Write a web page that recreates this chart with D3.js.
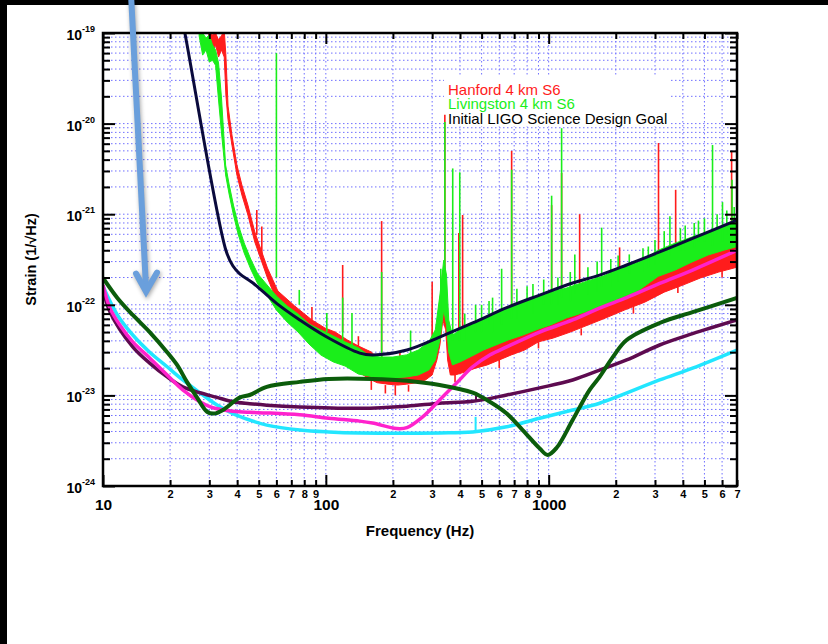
<!DOCTYPE html>
<html>
<head>
<meta charset="utf-8">
<script src="https://cdn.jsdelivr.net/npm/d3@7"></script>
<style>
  body { margin: 0; background: #fff; }
  svg { display: block; font-family: "Liberation Sans", Arial, Helvetica, sans-serif; }
</style>
</head>
<body>
<div id="chart"></div>
<script>

/*    Data    */
/***********************************/
// Measured noise bands: [frequency Hz, lower edge, upper edge] in strain 1/sqrt(Hz)
const hanfordBand = [
  [29.8, 8.8e-20, 1.08e-19], [31, 6.17e-20, 9.5e-20], [32, 7.4e-20, 1.0e-19], [33, 5.43e-20, 8.4e-20],
  [34, 6.5e-20, 9.3e-20], [35, 5.43e-20, 1.08e-19], [35.6, 2.07e-20, 5.7e-20], [36.4, 1.1e-20, 1.56e-20],
  [37.9, 5.8e-21, 7.48e-21], [39.9, 2.71e-21, 3.49e-21], [42, 1.63e-21, 2.1e-21], [44.7, 9.8e-22, 1.26e-21],
  [48, 4.93e-22, 6.37e-22], [51.6, 2.97e-22, 3.83e-22], [54.7, 1.98e-22, 2.55e-22], [60.9, 1.04e-22, 1.42e-22],
  [72.5, 6.8e-23, 9.7e-23], [86.6, 4.09e-23, 6.8e-23], [99, 3.01e-23, 5.55e-23], [110, 2.72e-23, 5.01e-23],
  [125, 2.17e-23, 4.09e-23], [140, 1.81e-23, 3.51e-23], [160, 1.48e-23, 3.01e-23], [170, 1.38e-23, 2.6e-23],
  [190, 1.33e-23, 2.46e-23], [210, 1.3e-23, 2.46e-23], [230, 1.33e-23, 2.46e-23], [255, 1.38e-23, 2.72e-23],
  [280, 1.48e-23, 3.17e-23], [300, 1.68e-23, 3.6e-23], [315, 2.46e-23, 5.3e-23], [325, 3.6e-23, 1.13e-22],
  [335, 6.8e-23, 2.42e-22], [345, 5.3e-23, 1.88e-22], [352, 2.46e-23, 5.3e-23], [362, 1.68e-23, 3.6e-23],
  [380, 1.68e-23, 3.6e-23], [420, 1.81e-23, 4.1e-23], [470, 2.0e-23, 4.6e-23], [530, 2.17e-23, 5.3e-23],
  [600, 2.46e-23, 6.0e-23], [680, 2.8e-23, 6.8e-23], [780, 3.17e-23, 7.7e-23], [900, 3.9e-23, 9.2e-23],
  [1050, 4.3e-23, 1.07e-22], [1250, 5.0e-23, 1.19e-22], [1500, 5.98e-23, 1.28e-22], [1800, 7.15e-23, 1.46e-22],
  [2200, 8.8e-23, 1.79e-22], [2700, 1.07e-22, 2.13e-22], [3300, 1.38e-22, 2.55e-22], [4000, 1.65e-22, 2.97e-22],
  [4800, 1.98e-22, 3.46e-22], [5800, 2.3e-22, 4.0e-22], [7000, 2.6e-22, 4.6e-22]
];

const livingstonBand = [
  [27, 9.3e-20, 1.08e-19], [28, 5.7e-20, 1.0e-19], [29, 6.5e-20, 8.8e-20], [30, 4.78e-20, 9.5e-20],
  [31, 5.0e-20, 7.4e-20], [32, 4.4e-20, 6.5e-20], [33, 1.82e-20, 4.67e-20], [34, 8.07e-21, 1.97e-20],
  [35.5, 2.71e-21, 3.49e-21], [36.8, 1.67e-21, 2.15e-21], [38.5, 9.8e-22, 1.26e-21], [40.5, 5.89e-22, 7.6e-22],
  [43, 3.73e-22, 4.81e-22], [46, 2.48e-22, 3.2e-22], [49.5, 1.7e-22, 2.19e-22], [54, 1.32e-22, 1.7e-22],
  [60, 8.76e-23, 1.25e-22], [67, 6.46e-23, 9.7e-23], [75, 5.01e-23, 7.91e-23], [84, 3.69e-23, 6.14e-23],
  [95, 2.79e-23, 5.27e-23], [108, 2.34e-23, 4.52e-23], [122, 2.11e-23, 3.89e-23], [140, 1.72e-23, 3.34e-23],
  [155, 1.64e-23, 2.8e-23], [175, 1.56e-23, 2.65e-23], [200, 1.56e-23, 2.65e-23], [230, 1.6e-23, 2.8e-23],
  [260, 1.68e-23, 3.17e-23], [290, 1.91e-23, 3.9e-23], [310, 2.46e-23, 5.3e-23], [325, 4.1e-23, 1.28e-22],
  [338, 8.8e-23, 3.1e-22], [348, 6.0e-23, 2.13e-22], [356, 3.0e-23, 6.8e-23], [370, 2.17e-23, 4.6e-23],
  [400, 2.34e-23, 5.3e-23], [450, 2.7e-23, 6.3e-23], [510, 3.17e-23, 7.15e-23], [580, 3.6e-23, 8.3e-23],
  [660, 4.1e-23, 9.5e-23], [760, 4.6e-23, 1.07e-22], [880, 5.3e-23, 1.19e-22], [1020, 6.0e-23, 1.38e-22],
  [1200, 7.15e-23, 1.53e-22], [1450, 8.3e-23, 1.79e-22], [1750, 1.0e-22, 2.06e-22], [2100, 1.19e-22, 2.55e-22],
  [2550, 1.46e-22, 2.97e-22], [3100, 2.06e-22, 4.0e-22], [3700, 2.42e-22, 4.8e-22], [4400, 2.97e-22, 5.6e-22],
  [5200, 3.55e-22, 6.4e-22], [6100, 4.0e-22, 7.6e-22], [7000, 4.4e-22, 8.6e-22]
];

// Spectral lines and noise excursions: [frequency, foot, tip]
const hanfordLines = [
  [49, 5.9e-22, 1.11e-21], [51.6, 3.46e-22, 7.3e-22], [86.6, 5e-23, 9.46e-23],
  [119, 5e-23, 2.75e-22], [140, 2.5e-23, 4.5e-23], [178, 2.6e-23, 8.4e-22], [215, 1.5e-23, 3e-23],
  [300, 3.0e-23, 1.8e-22], [342, 2e-22, 1.25e-20], [395, 3.6e-23, 6.2e-22], [411, 4e-23, 9.8e-22],
  [560, 3e-23, 5.5e-23], [682, 7e-23, 5e-21], [1031, 1e-22, 1.26e-21], [1143, 1.1e-22, 2.85e-21],
  [1377, 1.2e-22, 1.0e-21], [1600, 1e-22, 1.7e-22], [2081, 1.6e-22, 4.3e-22], [2500, 1.6e-22, 2.6e-22],
  [3111, 2.4e-22, 6.1e-21], [3714, 2.8e-22, 1.86e-21], [4300, 2.6e-22, 4.2e-22], [6621, 4e-22, 4.9e-21],
  [6900, 3.5e-22, 7e-22],
  [160, 1.5e-23, 1.15e-23], [185, 1.3e-23, 1.05e-23], [205, 1.3e-23, 1.0e-23], [235, 1.3e-23, 1.1e-23],
  [380, 1.7e-23, 1.4e-23], [600, 2.5e-23, 2.0e-23], [900, 3.9e-23, 3.3e-23], [1400, 5.5e-23, 4.6e-23],
  [2400, 9.5e-23, 8e-23], [3800, 1.6e-22, 1.35e-22], [6000, 2.4e-22, 2.0e-22]
];

const livingstonLines = [
  [60, 2.0e-22, 6.0e-20], [76, 1e-22, 1.46e-22], [101, 5e-23, 8.1e-23], [119, 4.0e-23, 1.2e-22],
  [131, 3e-23, 8.1e-23], [178, 2.6e-23, 2.3e-22], [240, 2.5e-23, 5.2e-23], [328, 8.0e-23, 2.5e-22],
  [342, 2.0e-22, 1.04e-20], [371, 4.0e-23, 3.2e-21], [399, 4.0e-23, 2.9e-21], [470, 5e-23, 1.0e-22],
  [540, 6e-23, 1.1e-22], [615, 6.0e-23, 2.5e-22], [682, 7.0e-23, 3.1e-21], [800, 9e-23, 1.6e-22],
  [950, 1.0e-22, 1.9e-22], [1031, 1.0e-22, 1.6e-21], [1143, 1.2e-22, 8.9e-21], [1310, 1.3e-22, 3.6e-22],
  [1729, 1.6e-22, 7.1e-22], [2300, 2.2e-22, 3.6e-22], [2800, 2.6e-22, 4.4e-22], [3500, 3.5e-22, 9.5e-22],
  [3900, 4.0e-22, 7e-22], [4700, 5e-22, 8.5e-22], [5436, 4.5e-22, 5.8e-21], [5700, 6e-22, 1.0e-21],
  [6026, 5.0e-22, 1.36e-21], [6650, 5.5e-22, 2.4e-21],
  [420, 4e-23, 8e-23], [500, 5e-23, 1.0e-22], [560, 5e-23, 1.2e-22], [720, 7e-23, 1.5e-22],
  [850, 8e-23, 1.7e-22], [1100, 1.0e-22, 2.0e-22], [1250, 1.1e-22, 2.3e-22], [1500, 1.3e-22, 2.6e-22],
  [1650, 1.4e-22, 3.0e-22], [1900, 1.6e-22, 3.2e-22], [2050, 1.8e-22, 3.5e-22], [2650, 2.3e-22, 4.2e-22],
  [3000, 2.8e-22, 5.2e-22], [3300, 3.2e-22, 6.5e-22], [4100, 4e-22, 7.5e-22], [4500, 4.3e-22, 8e-22],
  [5000, 5e-22, 9e-22], [6300, 6e-22, 1.1e-21], [6800, 6.5e-22, 1.2e-21]
];

// Smooth sensitivity curves: [frequency, strain]
const designGoal = [
  [22, 2e-19], [23.3, 1e-19], [35.6, 4.0e-22], [38.3, 2.68e-22], [41.1, 2.2e-22], [47.1, 1.74e-22],
  [60.3, 1.03e-22], [76.4, 6.8e-23], [101, 4.41e-23], [142, 2.93e-23], [162, 2.8e-23], [231, 3.17e-23],
  [324, 4.4e-23], [456, 6.3e-23], [648, 9.3e-23], [911, 1.28e-22], [1281, 1.74e-22], [1693, 2.13e-22],
  [2238, 2.75e-22], [3147, 3.83e-22], [4423, 5.4e-22], [7000, 8.6e-22]
];

const magentaCurve = [
  [10, 1.65e-22], [10.75, 9.2e-23], [11.9, 5.98e-23], [13.6, 3.89e-23], [16.2, 2.59e-23], [19.4, 1.68e-23],
  [22.8, 1.15e-23], [27.2, 8.5e-24], [31.1, 7.3e-24], [38.3, 6.7e-24], [45.5, 6.5e-24], [54.3, 6.4e-24],
  [76.4, 6.1e-24], [103, 5.6e-24], [142, 5.2e-24], [162, 4.95e-24], [208, 4.3e-24], [231, 4.4e-24],
  [272, 5.8e-24], [324, 8.9e-24], [386, 1.37e-23], [456, 2.07e-23], [544, 2.79e-23], [648, 3.43e-23],
  [911, 5.0e-23], [1281, 6.8e-23], [1693, 9.2e-23], [2238, 1.2e-22], [3147, 1.72e-22], [4423, 2.42e-22],
  [7000, 4.0e-22]
];

const cyanCurve = [
  [10, 1.6e-22], [11.6, 7.72e-23], [13.6, 4.64e-23], [16.2, 3.0e-23], [19.4, 2.07e-23], [22.8, 1.48e-23],
  [27.2, 1.07e-23], [32.5, 7.83e-24], [38.3, 6.3e-24], [45.5, 5.35e-24], [54.3, 4.7e-24], [76.4, 4.15e-24],
  [103, 3.95e-24], [142, 3.85e-24], [324, 3.85e-24], [456, 3.95e-24], [648, 4.5e-24], [911, 5.6e-24],
  [1281, 6.9e-24], [1693, 8.2e-24], [3147, 1.48e-23], [4423, 2.0e-23], [7000, 3.17e-23]
];
const cyanLine = [470, 3.95e-24, 5.8e-24];

const purpleCurve = [
  [10, 1.5e-22], [10.75, 8.33e-23], [13.6, 3.43e-23], [16.2, 2.27e-23], [19.4, 1.6e-23], [22.8, 1.24e-23],
  [27.2, 1.07e-23], [32.5, 9.5e-24], [38.3, 8.5e-24], [45.5, 8.1e-24], [54.3, 7.8e-24], [76.4, 7.45e-24],
  [142, 7.2e-24], [231, 7.6e-24], [324, 8.2e-24], [456, 8.6e-24], [648, 1.01e-23], [911, 1.21e-23],
  [1281, 1.48e-23], [1693, 1.9e-23], [2238, 2.46e-23], [3147, 3.6e-23], [4423, 4.8e-23], [7000, 6.8e-23]
];
const purpleLine = [472, 8.6e-24, 1.0e-23];

const darkGreenCurve = [
  [10, 1.98e-22], [11.6, 1.19e-22], [13.6, 7.72e-23], [16.2, 5.0e-23], [19.4, 3.0e-23], [21.5, 2.17e-23],
  [23.8, 1.41e-23], [26.4, 9.5e-24], [29.3, 6.6e-24], [31.5, 6.3e-24], [34.5, 6.9e-24], [41.2, 9.5e-24],
  [45.5, 1.01e-23], [54.3, 1.24e-23], [76.4, 1.41e-23], [103, 1.52e-23], [162, 1.52e-23], [231, 1.45e-23],
  [324, 1.3e-23], [456, 1.07e-23], [544, 8.5e-24], [648, 6.3e-24], [764, 4.15e-24], [911, 2.6e-24],
  [990, 2.2e-24], [1086, 2.64e-24], [1281, 5.35e-24], [1527, 1.15e-23], [1693, 1.6e-23], [1936, 2.63e-23],
  [2238, 4.09e-23], [3147, 6.3e-23], [4423, 8.3e-23], [7000, 1.19e-22]
];

// Axis ticks
const xMajor = [10, 100, 1000];
const xMinor = [20, 30, 40, 50, 60, 70, 80, 90, 200, 300, 400, 500, 600, 700, 800, 900,
                2000, 3000, 4000, 5000, 6000, 7000];
const yExponents = [-24, -23, -22, -21, -20, -19];
const yMinorDigits = [2, 3, 4, 5, 6, 7, 8, 9];

const legendItems = [
  {label: "Hanford 4 km S6", color: "#ff1c1c"},
  {label: "Livingston 4 km S6", color: "#1aee1a"},
  {label: "Initial LIGO Science Design Goal", color: "#000000"}
];

// Annotation arrow: tail above the plot, tip at a point in data units
const arrowTail = [13.4, 2.3e-19];
const arrowTip = [15.6, 1.4e-22];


/*    Declare the constants    */
/*******************************/
const width = 828;
const height = 644;
const margin = {top: 33, right: 91, bottom: 158, left: 103};
const innerWidth = width - margin.left - margin.right;
const innerHeight = height - margin.top - margin.bottom;

const yMajor = yExponents.map(e => Math.pow(10, e));
const yMinor = [];
yExponents.slice(0, -1).forEach(e => yMinorDigits.forEach(d => yMinor.push(d * Math.pow(10, e))));


/*    Append the containers    */
/*******************************/
const svg = d3.select("#chart")
  .append("svg")
    .attr("width", width)
    .attr("height", height);

svg.append("rect").attr("width", width).attr("height", height).attr("fill", "#fff");
svg.append("rect").attr("width", width).attr("height", 5).attr("fill", "#000");
svg.append("rect").attr("width", 7).attr("height", height).attr("fill", "#000");

const innerChart = svg
  .append("g")
    .attr("transform", `translate(${margin.left}, ${margin.top})`);

const xScale = d3.scaleLog()
  .domain([10, 7000])
  .range([0, innerWidth]);

const yScale = d3.scaleLog()
  .domain([1e-24, 1e-19])
  .range([innerHeight, 0]);

svg.append("defs")
  .append("clipPath")
    .attr("id", "plot-clip")
  .append("rect")
    .attr("width", innerWidth)
    .attr("height", innerHeight);


/*    Grid    */
/**************/
const grid = innerChart.append("g")
  .attr("stroke", "#7070ff")
  .attr("stroke-width", 1)
  .attr("stroke-dasharray", "1.5,2.5");

grid.selectAll(".vgrid")
  .data(xMajor.concat(xMinor).filter(d => d > 10 && d < 7000))
  .join("line")
    .attr("x1", d => xScale(d)).attr("x2", d => xScale(d))
    .attr("y1", 0).attr("y2", innerHeight);

grid.selectAll(".hgrid")
  .data(yMajor.concat(yMinor).filter(d => d > 1e-24 && d < 1e-19))
  .join("line")
    .attr("y1", d => yScale(d)).attr("y2", d => yScale(d))
    .attr("x1", 0).attr("x2", innerWidth);

// legend background hides the grid under the labels
innerChart.append("rect")
  .attr("x", 444 - margin.left)
  .attr("y", 76 - margin.top)
  .attr("width", 226)
  .attr("height", 50)
  .attr("fill", "#fff");


/*    Data marks    */
/********************/
const plot = innerChart.append("g").attr("clip-path", "url(#plot-clip)");

const band = d3.area()
  .x(d => xScale(d[0]))
  .y0(d => yScale(d[1]))
  .y1(d => yScale(d[2]));

const curve = d3.line()
  .x(d => xScale(d[0]))
  .y(d => yScale(d[1]))
  .curve(d3.curveCatmullRom.alpha(0.5));

const drawLines = (data, color, w) => {
  plot.append("g")
    .selectAll("line")
    .data(data)
    .join("line")
      .attr("x1", d => xScale(d[0])).attr("x2", d => xScale(d[0]))
      .attr("y1", d => yScale(d[1])).attr("y2", d => yScale(d[2]))
      .attr("stroke", color)
      .attr("stroke-width", w);
};

plot.append("path")
  .attr("d", band(hanfordBand))
  .attr("fill", "#ff1c1c")
  .attr("stroke", "#ff1c1c")
  .attr("stroke-width", 1);
drawLines(hanfordLines, "#ff1c1c", 1.6);

plot.append("path")
  .attr("d", band(livingstonBand))
  .attr("fill", "#1aee1a")
  .attr("stroke", "#1aee1a")
  .attr("stroke-width", 1);
drawLines(livingstonLines, "#1aee1a", 1.6);

const smoothCurves = [
  {data: cyanCurve, color: "#22e6ff", w: 3.5},
  {data: purpleCurve, color: "#5e0b50", w: 3.5},
  {data: magentaCurve, color: "#ff22cc", w: 3.5},
  {data: darkGreenCurve, color: "#0b5c0b", w: 4},
  {data: designGoal, color: "#0a0a3c", w: 3}
];

drawLines([cyanLine], "#22e6ff", 2);
drawLines([purpleLine], "#5e0b50", 2);

plot.selectAll(".smooth")
  .data(smoothCurves)
  .join("path")
    .attr("d", d => curve(d.data))
    .attr("fill", "none")
    .attr("stroke", d => d.color)
    .attr("stroke-width", d => d.w)
    .attr("stroke-linejoin", "round");


/*    Axes    */
/**************/
const styleAxis = g => {
  g.select(".domain").remove();
  g.selectAll(".tick line").attr("stroke", "#000").attr("stroke-width", 2);
  g.selectAll("text").attr("fill", "#000").attr("font-weight", "bold");
};
const dropText = g => g.selectAll("text").remove();

const digit = d => String(Math.round(d / Math.pow(10, Math.floor(Math.log10(d) + 1e-9))));

innerChart.append("g")
  .attr("transform", `translate(0, ${innerHeight})`)
  .call(d3.axisBottom(xScale).tickValues(xMinor).tickSize(-6).tickPadding(4).tickFormat(digit))
  .call(styleAxis)
  .call(g => g.selectAll("text").attr("font-size", 11));

innerChart.append("g")
  .attr("transform", `translate(0, ${innerHeight})`)
  .call(d3.axisBottom(xScale).tickValues(xMajor).tickSize(-11).tickPadding(13).tickFormat(d3.format("d")))
  .call(styleAxis)
  .call(g => g.selectAll("text").attr("font-size", 15.5));

innerChart.append("g")
  .call(d3.axisTop(xScale).tickValues(xMinor).tickSize(-6))
  .call(styleAxis).call(dropText);
innerChart.append("g")
  .call(d3.axisTop(xScale).tickValues(xMajor).tickSize(-11))
  .call(styleAxis).call(dropText);

innerChart.append("g")
  .call(d3.axisLeft(yScale).tickValues(yMinor).tickSize(-7))
  .call(styleAxis).call(dropText);
innerChart.append("g")
  .call(d3.axisLeft(yScale).tickValues(yMajor).tickSize(-12))
  .call(styleAxis).call(dropText);

innerChart.append("g")
  .attr("transform", `translate(${innerWidth}, 0)`)
  .call(d3.axisRight(yScale).tickValues(yMinor).tickSize(-7))
  .call(styleAxis).call(dropText);
innerChart.append("g")
  .attr("transform", `translate(${innerWidth}, 0)`)
  .call(d3.axisRight(yScale).tickValues(yMajor).tickSize(-12))
  .call(styleAxis).call(dropText);

// y labels as 10 with a superscript exponent
const yLabels = innerChart.append("g")
  .selectAll("text")
  .data(yExponents)
  .join("text")
    .attr("x", -8)
    .attr("y", d => yScale(Math.pow(10, d)) + 7)
    .attr("text-anchor", "end")
    .attr("font-weight", "bold");
yLabels.append("tspan").attr("font-size", 14).text("10");
yLabels.append("tspan").attr("font-size", 9).attr("dy", -8).text(d => String(d));

// plot frame
innerChart.append("rect")
  .attr("width", innerWidth)
  .attr("height", innerHeight)
  .attr("fill", "none")
  .attr("stroke", "#000")
  .attr("stroke-width", 2.5);


/*    Legend and titles    */
/***************************/
svg.append("g")
  .selectAll("text")
  .data(legendItems)
  .join("text")
    .attr("x", 448)
    .attr("y", (d, i) => 95 + i * 14.3)
    .attr("font-size", 15)
    .attr("fill", d => d.color)
    .text(d => d.label);

svg.append("text")
  .text("Frequency (Hz)")
  .attr("x", 420)
  .attr("y", 536)
  .attr("text-anchor", "middle")
  .attr("font-size", 15)
  .attr("font-weight", "bold");

svg.append("text")
  .text("Strain (1/\u221AHz)")
  .attr("transform", `translate(36, ${margin.top + innerHeight / 2}) rotate(-90)`)
  .attr("text-anchor", "middle")
  .attr("font-size", 14.5)
  .attr("font-weight", "bold");


/*    Arrow annotation    */
/**************************/
const tipX = margin.left + xScale(arrowTip[0]);
const tipY = margin.top + yScale(arrowTip[1]);
const tailX = margin.left + xScale(arrowTail[0]);
const tailY = margin.top + yScale(arrowTail[1]);

const arrow = svg.append("g")
  .attr("stroke", "#6a9fdc")
  .attr("stroke-width", 6)
  .attr("stroke-linecap", "round")
  .attr("fill", "none")
  .style("filter", "drop-shadow(1px 2px 2px rgba(0,0,0,0.35))");

arrow.append("line")
  .attr("x1", tailX).attr("y1", tailY)
  .attr("x2", tipX).attr("y2", tipY - 3);
arrow.append("path")
  .attr("d", `M${tipX - 10},${tipY - 18} L${tipX},${tipY} L${tipX + 11},${tipY - 19}`)
  .attr("stroke-linejoin", "miter");

</script>
</body>
</html>
